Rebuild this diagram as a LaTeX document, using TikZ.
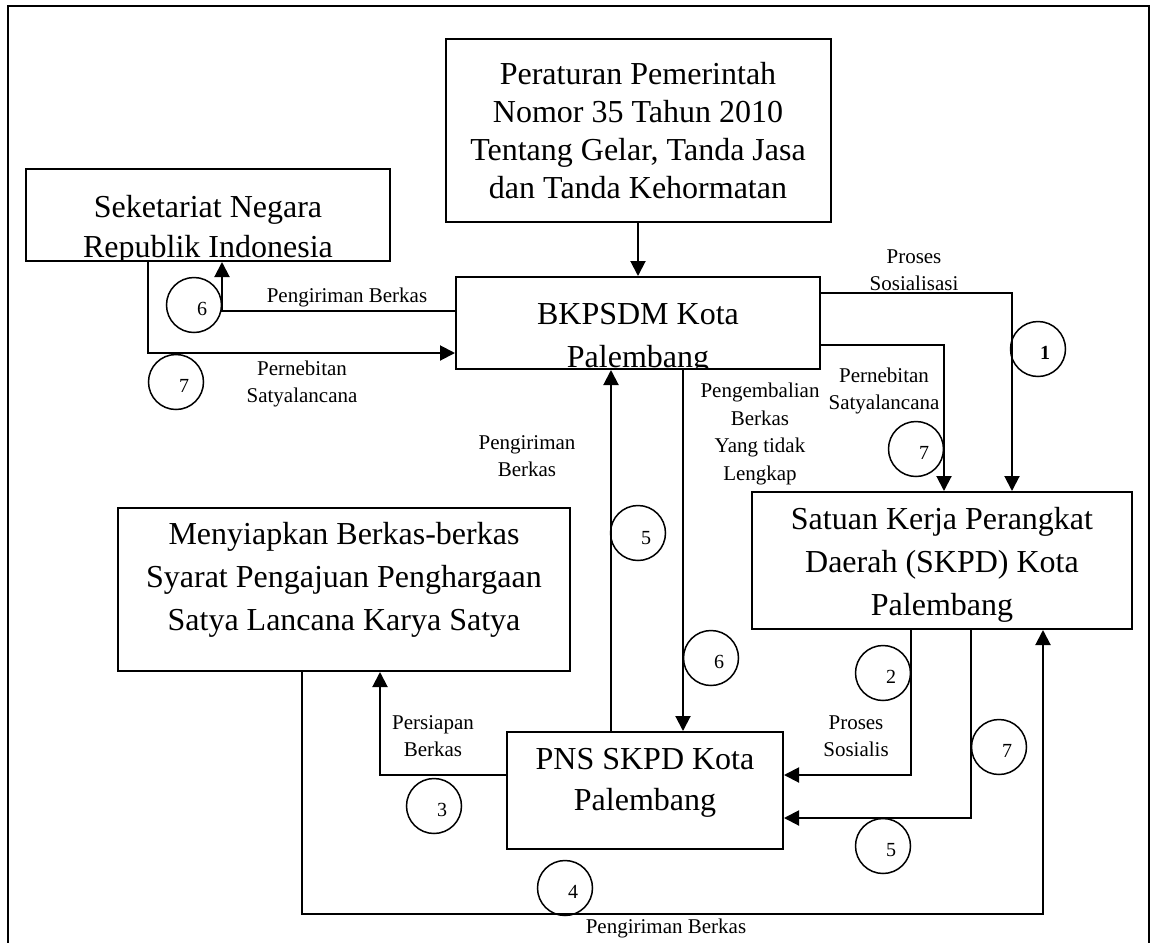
\documentclass[tikz,border=0pt]{standalone}
\usepackage{fontspec}
\setmainfont{Liberation Serif}
\usetikzlibrary{arrows.meta,calc}
\begin{document}
\begin{tikzpicture}[x=0.5pt,y=-0.5pt,
  box/.style={draw,line width=1pt,inner sep=0pt},
  btext/.style={align=center,inner sep=0pt},
  lab/.style={align=center,font=\fontsize{10.5}{13.75}\selectfont,inner sep=0pt},
  circ/.style={draw,circle,line width=0.75pt,minimum size=27.5pt,inner sep=0pt},
  dig/.style={font=\fontsize{10}{10}\selectfont,inner sep=0pt},
  arr/.style={line width=1pt,-{Triangle[length=7.5pt,width=7.5pt]}},
  ln/.style={line width=1pt}]
\useasboundingbox (0,0) rectangle (1153,943);
% outer frame
\draw[ln] (8,943) -- (8,6) -- (1149,6) -- (1149,943);

% boxes (text clipped to the box, as in the reference)
\node[box,minimum width=192.5pt,minimum height=91.5pt,
  path picture={\node[btext,font=\fontsize{16}{19}\selectfont] at (path picture bounding box.center) {Peraturan Pemerintah\\Nomor 35 Tahun 2010\\Tentang Gelar, Tanda Jasa\\dan Tanda Kehormatan};}]
  (per) at (638,130.5) {};
\node[box,minimum width=182pt,minimum height=46pt,
  path picture={\node[btext,font=\fontsize{16}{20}\selectfont] at ([yshift=-7.5pt]path picture bounding box.center) {Seketariat Negara\\Republik Indonesia};}]
  (sek) at (208,215) {};
\node[box,minimum width=182pt,minimum height=46pt,
  path picture={\node[btext,font=\fontsize{16}{21.5}\selectfont] at ([yshift=-7.75pt]path picture bounding box.center) {BKPSDM Kota\\Palembang};}]
  (bkp) at (638,323) {};
\node[box,minimum width=190pt,minimum height=68.5pt,
  path picture={\node[btext,font=\fontsize{16}{21.5}\selectfont] at ([yshift=-2pt]path picture bounding box.center) {Satuan Kerja Perangkat\\Daerah (SKPD) Kota\\Palembang};}]
  (sat) at (942,560.5) {};
\node[box,minimum width=226pt,minimum height=81.5pt,
  path picture={\node[btext,font=\fontsize{16}{21.5}\selectfont] at ([yshift=4.75pt]path picture bounding box.center) {Menyiapkan Berkas-berkas\\Syarat Pengajuan Penghargaan\\Satya Lancana Karya Satya};}]
  (men) at (344,589.5) {};
\node[box,minimum width=138pt,minimum height=58.5pt,
  path picture={\node[btext,font=\fontsize{16}{20.5}\selectfont] at ([yshift=4pt]path picture bounding box.center) {PNS SKPD Kota\\Palembang};}]
  (pns) at (645,790.5) {};

% connectors
\draw[arr] (bkp.north |- per.south) -- (bkp.north);
\draw[arr] ([yshift=6pt]bkp.west) -| ([xshift=7pt]sek.south);
\draw[arr] ([xshift=-30pt]sek.south) |- ([yshift=-15pt]bkp.west);
\draw[arr] ([yshift=15pt]bkp.east) -| ([xshift=35pt]sat.north);
\draw[arr] ([yshift=-11pt]bkp.east) -| ([xshift=1pt]sat.north);
\draw[arr] ([xshift=22.5pt]bkp.south) -- ([xshift=22.5pt]bkp.south |- pns.north);
\draw[arr] ([xshift=-13.5pt]bkp.south |- pns.north) -- ([xshift=-13.5pt]bkp.south);
\draw[arr] ([yshift=7.75pt]pns.west) -| ([xshift=18pt]men.south);
\coordinate (bl) at (302,914);
\coordinate (br) at (1043,914);
\draw[arr] ([xshift=-21pt]men.south) -- (bl) -- (br) -- (br |- sat.south);
\draw[arr] ([xshift=-15.5pt]sat.south) |- ([yshift=7.75pt]pns.east);
\draw[arr] ([xshift=14.5pt]sat.south) |- ([yshift=-13.75pt]pns.east);

% numbered circles
\node[circ,label={[dig,xshift=4pt,yshift=-2pt]center:6}] (c6a) at (194,305) {};
\node[circ,label={[dig,xshift=4pt,yshift=-2pt]center:7}] (c7a) at (176,382) {};
\node[circ,label={[dig,xshift=3.5pt,yshift=-2pt]center:\textbf{1}}] (c1) at (1038,349) {};
\node[circ,label={[dig,xshift=4pt,yshift=-2pt]center:7}] (c7b) at (916,449) {};
\node[circ,label={[dig,xshift=4pt,yshift=-2.5pt]center:5}] (c5a) at (638,533) {};
\node[circ,label={[dig,xshift=4pt,yshift=-2pt]center:6}] (c6b) at (711,658) {};
\node[circ,label={[dig,xshift=4pt,yshift=-2pt]center:2}] (c2) at (883,673) {};
\node[circ,label={[dig,xshift=4pt,yshift=-2pt]center:7}] (c7c) at (999,747) {};
\node[circ,label={[dig,xshift=4pt,yshift=-2pt]center:5}] (c5b) at (883,846) {};
\node[circ,label={[dig,xshift=4pt,yshift=-2pt]center:3}] (c3) at (434,806) {};
\node[circ,label={[dig,xshift=4pt,yshift=-2pt]center:4}] (c4) at (565,888) {};

% connector labels
\node[lab] (l1) at (914,270) {Proses\\Sosialisasi};
\node[lab] (l6a) at (347,297) {Pengiriman Berkas};
\node[lab] (l7a) at (302,384) {Pernebitan\\Satyalancana};
\node[lab] (l7b) at (884,391) {Pernebitan\\Satyalancana};
\node[lab] (lpg) at (760,434) {Pengembalian\\Berkas\\Yang tidak\\Lengkap};
\node[lab] (l5a) at (527,456) {Pengiriman\\Berkas};
\node[lab] (l3) at (433,736) {Persiapan\\Berkas};
\node[lab] (l2) at (856,736) {Proses\\Sosialis};
\node[lab] (l4) at (666,928) {Pengiriman Berkas};
\end{tikzpicture}
\end{document}
